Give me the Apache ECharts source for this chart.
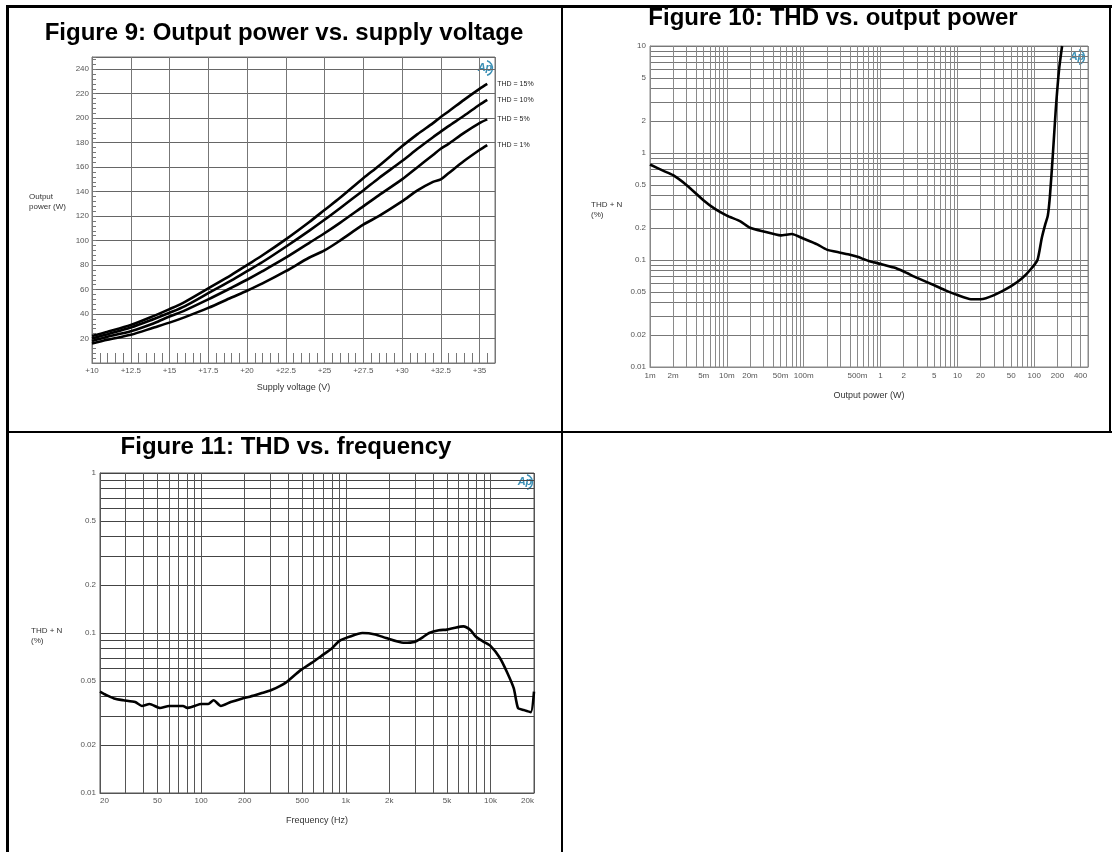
<!DOCTYPE html>
<html><head><meta charset="utf-8">
<script src="https://cdn.jsdelivr.net/npm/echarts@6/dist/echarts.min.js"></script>
<style>html,body{margin:0;padding:0;background:#fff}#c{width:1112px;height:852px}</style>
</head><body><div id="c"></div>
<script>
// ---- Figure 9: output power vs supply voltage ----
const voltage = [10, 11, 12.5, 14, 15, 16, 17.5, 19, 20, 21, 22.5, 24, 25, 26, 27.5, 28.5, 30, 31, 32, 32.5, 33, 34, 35, 35.5];
const thd15 = [22, 25.5, 31, 38.5, 44, 50, 61, 72, 80, 88, 101, 115, 125, 135, 151, 161, 177, 187, 196, 201, 205.5, 215, 224, 228];
const thd10 = [20, 23.5, 29, 36, 41, 46.5, 57, 67.5, 75, 82.5, 95, 108, 117, 126.5, 141, 151, 165, 175, 184.5, 189, 193.5, 202, 211, 215];
const thd5  = [18, 21.5, 26, 32.5, 38, 43, 52, 61.5, 68, 75, 86, 98, 106, 114.5, 128, 137, 150, 160, 170, 175, 179, 188, 196, 199];
const thd1  = [16, 19, 23, 29, 33, 37.5, 45, 53.5, 59, 65, 75, 86, 92, 100, 113, 120, 132, 141, 148, 150, 155, 165, 174, 178];
const seriesNames9 = ['THD = 15%', 'THD = 10%', 'THD = 5%', 'THD = 1%'];

// ---- Figure 10: THD vs output power ----
const powerW = [0.001, 0.0015, 0.002, 0.003, 0.005, 0.007, 0.01, 0.015, 0.02, 0.03, 0.05, 0.07, 0.1, 0.15, 0.2, 0.3, 0.4, 0.5, 0.7, 1, 1.5, 2, 3, 5, 7, 10, 15, 20, 30, 50, 70, 90, 110, 125, 140, 150, 160, 175, 190, 210, 230];
const thdPower = [0.78, 0.68, 0.62, 0.5, 0.36, 0.3, 0.26, 0.23, 0.2, 0.185, 0.17, 0.175, 0.158, 0.14, 0.125, 0.117, 0.112, 0.107, 0.098, 0.092, 0.085, 0.078, 0.068, 0.058, 0.052, 0.047, 0.043, 0.043, 0.047, 0.057, 0.068, 0.082, 0.1, 0.16, 0.22, 0.26, 0.4, 1, 2.5, 6, 10];
const xLabels10 = [0.001, 0.002, 0.005, 0.01, 0.02, 0.05, 0.1, 0.5, 1, 2, 5, 10, 20, 50, 100, 200, 400];
const yLabels10 = [0.01, 0.02, 0.05, 0.1, 0.2, 0.5, 1, 2, 5, 10];

// ---- Figure 11: THD vs frequency ----
const freqHz = [20, 22, 25, 29, 35, 39, 44, 52, 60, 69, 75, 80, 90, 100, 112, 122, 137, 160, 193, 217, 260, 306, 385, 480, 580, 680, 800, 900, 1070, 1300, 1600, 1900, 2500, 2990, 3400, 3770, 4400, 5000, 5700, 6500, 7300, 7900, 9000, 10000, 11600, 13000, 14500, 15500, 17000, 19000, 20000];
const thdFreq = [0.043, 0.041, 0.039, 0.038, 0.037, 0.035, 0.036, 0.034, 0.035, 0.035, 0.035, 0.034, 0.035, 0.036, 0.036, 0.038, 0.035, 0.037, 0.039, 0.04, 0.042, 0.044, 0.049, 0.058, 0.065, 0.072, 0.08, 0.089, 0.095, 0.1, 0.098, 0.093, 0.087, 0.088, 0.094, 0.1, 0.104, 0.105, 0.108, 0.11, 0.104, 0.095, 0.088, 0.083, 0.07, 0.057, 0.045, 0.034, 0.033, 0.032, 0.043];
const xLabels11 = [20, 50, 100, 200, 500, 1000, 2000, 5000, 10000, 20000];
const yLabels11 = [0.01, 0.02, 0.05, 0.1, 0.2, 0.5, 1];

function logGrid(min, max) {
  const out = [];
  for (let e = -4; e <= 5; e++) {
    for (let k = 1; k <= 9; k++) {
      const v = +(k * Math.pow(10, e)).toPrecision(6);
      if (v >= min * 0.9999 && v <= max * 1.0001) out.push(v);
    }
  }
  return out;
}
const zip = (xs, ys) => xs.map((x, i) => [x, ys[i]]);
const FONT = 'Liberation Sans, Arial, sans-serif';
const lblStyle = { color: '#555', fontSize: 8, fontFamily: FONT };
const fmtNum = v => String(+v.toPrecision(6));
const fmtW = v => v < 1 ? Math.round(v * 1000) + 'm' : fmtNum(v);
const fmtHz = v => v >= 1000 ? Math.round(v / 1000) + 'k' : fmtNum(v);

const chart = echarts.init(document.getElementById('c'), null, { renderer: 'canvas' });

const g10min = 0.001, g10max = 500;
const g11min = 20, g11max = 20000;

const lineStyleMain = { color: '#000', width: 2.6 };

function title(text, x, y) {
  return { type: 'text', x: x, y: y, style: { text: text, font: 'bold 24px ' + FONT, fill: '#000', textAlign: 'center', textVerticalAlign: 'middle' } };
}
function logo(x, y) {
  return { type: 'group', x: x, y: y, z: 10, children: [
    { type: 'text', x: 0, y: 0, style: { text: 'Ap', font: 'italic bold 11px ' + FONT, fill: '#3a8fb5', textAlign: 'center', textVerticalAlign: 'middle' } },
    { type: 'arc', shape: { cx: 0, cy: 0, r: 7.5, startAngle: -1.3, endAngle: 1.3 }, style: { stroke: '#3a8fb5', lineWidth: 1.4, fill: null } }
  ]};
}

const option = {
  animation: false,
  backgroundColor: '#fff',
  grid: [
    { left: 92, top: 57, width: 403, height: 306, show: true, borderColor: '#777', borderWidth: 1 },
    { left: 650, top: 46, width: 438, height: 321, show: true, borderColor: '#888', borderWidth: 1 },
    { left: 100, top: 473, width: 434, height: 320, show: true, borderColor: '#555', borderWidth: 1 }
  ],
  xAxis: [
    {
      gridIndex: 0, type: 'value', min: 10, max: 36, interval: 2.5,
      name: 'Supply voltage (V)', nameLocation: 'middle', nameGap: 20,
      nameTextStyle: { color: '#333', fontSize: 9, fontFamily: FONT },
      axisLine: { show: true, lineStyle: { color: '#777' } },
      axisTick: { show: true, inside: true, length: 10, lineStyle: { color: '#777' } },
      minorTick: { show: true, splitNumber: 5, length: 10, lineStyle: { color: '#777' } },
      splitLine: { show: true, lineStyle: { color: '#777', width: 1 } },
      axisLabel: Object.assign({ margin: 4, showMaxLabel: false, formatter: v => '+' + v }, lblStyle)
    },
    {
      gridIndex: 1, type: 'log', logBase: 10, min: g10min, max: g10max,
      name: 'Output power (W)', nameLocation: 'middle', nameGap: 24,
      nameTextStyle: { color: '#333', fontSize: 9, fontFamily: FONT },
      axisLine: { show: true, lineStyle: { color: '#888' } },
      axisTick: { show: false, customValues: logGrid(g10min, g10max) },
      splitLine: { show: true, lineStyle: { color: '#8a8a8a', width: 1 } },
      axisLabel: Object.assign({ margin: 5, customValues: xLabels10, formatter: fmtW }, lblStyle)
    },
    {
      gridIndex: 2, type: 'log', logBase: 10, min: g11min, max: g11max,
      name: 'Frequency (Hz)', nameLocation: 'middle', nameGap: 23,
      nameTextStyle: { color: '#333', fontSize: 9, fontFamily: FONT },
      axisLine: { show: true, lineStyle: { color: '#555' } },
      axisTick: { show: false, customValues: logGrid(g11min, g11max) },
      splitLine: { show: true, lineStyle: { color: '#555', width: 1 } },
      axisLabel: Object.assign({ margin: 4, customValues: xLabels11, formatter: fmtHz, alignMinLabel: 'left', alignMaxLabel: 'right' }, lblStyle)
    }
  ],
  yAxis: [
    {
      gridIndex: 0, type: 'value', min: 0, max: 250, interval: 20,
      axisLine: { show: true, lineStyle: { color: '#777' } },
      axisTick: { show: true, inside: true, length: 4, lineStyle: { color: '#777' } },
      minorTick: { show: true, splitNumber: 5, length: 4, lineStyle: { color: '#777' } },
      splitLine: { show: true, lineStyle: { color: '#666', width: 1 } },
      axisLabel: Object.assign({ margin: 3, showMinLabel: false, showMaxLabel: false }, lblStyle)
    },
    {
      gridIndex: 1, type: 'log', logBase: 10, min: 0.01, max: 10,
      axisLine: { show: true, lineStyle: { color: '#888' } },
      axisTick: { show: false, customValues: logGrid(0.01, 10) },
      splitLine: { show: true, lineStyle: { color: '#777', width: 1 } },
      axisLabel: Object.assign({ margin: 4, customValues: yLabels10, formatter: fmtNum }, lblStyle)
    },
    {
      gridIndex: 2, type: 'log', logBase: 10, min: 0.01, max: 1,
      axisLine: { show: true, lineStyle: { color: '#555' } },
      axisTick: { show: false, customValues: logGrid(0.01, 1) },
      splitLine: { show: true, lineStyle: { color: '#444', width: 1 } },
      axisLabel: Object.assign({ margin: 4, customValues: yLabels11, formatter: fmtNum }, lblStyle)
    }
  ],
  series: [
    ...[thd15, thd10, thd5, thd1].map((ys, i) => ({
      name: seriesNames9[i], type: 'line', xAxisIndex: 0, yAxisIndex: 0,
      data: zip(voltage, ys), smooth: 0.3, showSymbol: false, symbol: 'none',
      lineStyle: lineStyleMain, z: 5,
      endLabel: { show: true, formatter: seriesNames9[i], distance: 10, color: '#222', fontSize: 7, fontFamily: FONT }
    })),
    {
      name: 'THD vs power', type: 'line', xAxisIndex: 1, yAxisIndex: 1,
      data: zip(powerW, thdPower), smooth: 0.2, showSymbol: false, symbol: 'none',
      lineStyle: lineStyleMain, z: 5
    },
    {
      name: 'THD vs frequency', type: 'line', xAxisIndex: 2, yAxisIndex: 2,
      data: zip(freqHz, thdFreq), smooth: 0.2, showSymbol: false, symbol: 'none',
      lineStyle: lineStyleMain, z: 5
    }
  ],
  graphic: [
    { type: 'rect', shape: { x: 6, y: 5, width: 3, height: 847 }, style: { fill: '#000' }, silent: true },
    { type: 'rect', shape: { x: 6, y: 5, width: 1106, height: 3 }, style: { fill: '#000' }, silent: true },
    { type: 'rect', shape: { x: 561, y: 5, width: 2, height: 847 }, style: { fill: '#000' }, silent: true },
    { type: 'rect', shape: { x: 6, y: 431, width: 1106, height: 2 }, style: { fill: '#000' }, silent: true },
    { type: 'rect', shape: { x: 1109, y: 5, width: 2, height: 428 }, style: { fill: '#000' }, silent: true },
    title('Figure 9: Output power vs. supply voltage', 284, 33),
    title('Figure 10: THD vs. output power', 833, 18),
    title('Figure 11: THD vs. frequency', 286, 447),
    { type: 'text', x: 29, y: 202, style: { text: 'Output\npower (W)', font: '8px ' + FONT, fill: '#333', textAlign: 'left', textVerticalAlign: 'middle', lineHeight: 10 } },
    { type: 'text', x: 591, y: 210, style: { text: 'THD + N\n(%)', font: '8px ' + FONT, fill: '#333', textAlign: 'left', textVerticalAlign: 'middle', lineHeight: 10 } },
    { type: 'text', x: 31, y: 636, style: { text: 'THD + N\n(%)', font: '8px ' + FONT, fill: '#333', textAlign: 'left', textVerticalAlign: 'middle', lineHeight: 10 } },
    logo(485, 68),
    logo(1077, 57),
    logo(525, 482)
  ]
};
chart.setOption(option);
</script>
</body></html>
